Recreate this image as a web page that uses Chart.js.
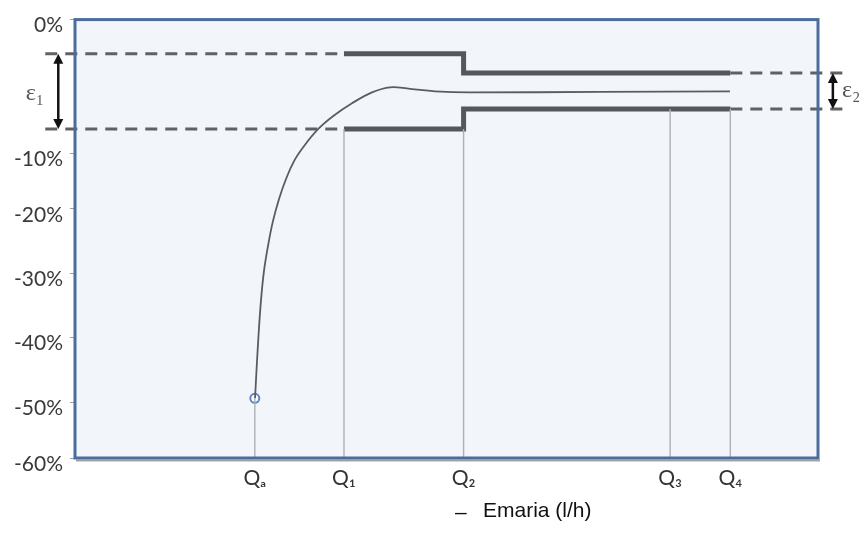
<!DOCTYPE html>
<html><head><meta charset="utf-8">
<script src="https://cdn.jsdelivr.net/npm/chart.js@4.4.1/dist/chart.umd.min.js"></script>
<style>html,body{margin:0;padding:0;background:#fff}#wrap{width:864px;height:536px;position:relative}</style>
</head><body><div id="wrap"><canvas id="c" width="864" height="536"></canvas></div>
<script>
// ---- data ----
const flowLabels = ['Qₐ','Q₁','Q₂','Q₃','Q₄'];
const flowValues = [24.2, 36.2, 52.3, 80.1, 88.2];          // nominal flow positions (0-100 axis)
const yTickValues = [0, -10, -20, -30, -40, -50, -60];      // error %
const curveX = [24.23, 24.43, 24.70, 25.03, 25.44, 25.98, 26.65, 27.46, 28.40, 29.48, 30.82, 32.71, 34.72, 37.28, 39.97, 42.40, 45.09, 48.45, 53.16, 70.66, 88.16];
const curveY = [-49.38, -45.08, -39.69, -34.22, -29.54, -25.69, -21.85, -18.21, -14.64, -11.43, -9.48, -8.21, -7.24, -6.27, -5.45, -5.07, -5.19, -5.37, -5.45, -5.41, -5.37];
const upperLimit = [-2.55, -2.55, -4.0, -4.0];   // at Q1, Q2, Q2, Q4
const lowerLimit = [-8.2, -8.2, -6.7, -6.7];     // at Q1, Q2, Q2, Q4
const eps1 = [-2.55, -8.2];
const eps2 = [-4.0, -6.7];
const lineTops = [-49.4, -8.2, -8.2, -6.7, -6.7]; // vertical guide lines Qa..Q4 start
const markerValue = -49.4;
const extLeft = -4.0, extRight = 104.3, eps1X = -2.25, eps2X = 102.0;
const xLabelText = 'Emaria (l/h)';

// ---- non-uniform (schematic) y axis layout: fraction from top for each tick value ----
const Y_FRACS = [0, 0.3045, 0.4318, 0.5795, 0.725, 0.8727, 1];

class PiecewiseScale extends Chart.LinearScale {
  static id = 'piecewise';
  static defaults = {};
  determineDataLimits() { this.min = -60; this.max = 0; }
  buildTicks() { return yTickValues.map(v => ({value: v})); }
  _fracOf(v) {
    const vs = yTickValues, fs = Y_FRACS;
    if (v >= vs[0]) return fs[0] + (v - vs[0]) / (vs[1] - vs[0]) * (fs[1] - fs[0]);
    for (let i = 0; i < vs.length - 1; i++) {
      if (v <= vs[i] && v >= vs[i + 1]) return fs[i] + (vs[i] - v) / (vs[i] - vs[i + 1]) * (fs[i + 1] - fs[i]);
    }
    const n = vs.length - 1;
    return fs[n] + (vs[n] - v) / (vs[n - 1] - vs[n]) * (fs[n] - fs[n - 1]);
  }
  getPixelForValue(v) { if (v === null || v === undefined) return NaN; return this.top + this._fracOf(v) * (this.bottom - this.top); }
  getValueForPixel(p) {
    const f = (p - this.top) / (this.bottom - this.top);
    for (let i = 0; i < Y_FRACS.length - 1; i++) {
      if (f >= Y_FRACS[i] && f <= Y_FRACS[i + 1]) return yTickValues[i] + (f - Y_FRACS[i]) / (Y_FRACS[i + 1] - Y_FRACS[i]) * (yTickValues[i + 1] - yTickValues[i]);
    }
    return f < 0 ? 0 : -60;
  }
}
Chart.register(PiecewiseScale);

const pts = (xs, ys) => xs.map((x, i) => ({x, y: ys[i]}));
const stepX = [flowValues[1], flowValues[2], flowValues[2], flowValues[4]];

const datasets = [];
flowValues.forEach((q, i) => {
  datasets.push({data: [{x: q, y: lineTops[i]}, {x: q, y: -60}], borderColor: '#aeb0b4', borderWidth: 1.4, pointRadius: 0, tension: 0});
});
datasets.push({data: pts(curveX, curveY), borderColor: '#5a5c60', borderWidth: 1.8, pointRadius: 0, tension: 0.4});
datasets.push({data: pts(stepX, upperLimit), borderColor: '#55575b', borderWidth: 5, pointRadius: 0, tension: 0, borderJoinStyle: 'miter'});
datasets.push({data: pts(stepX, lowerLimit), borderColor: '#55575b', borderWidth: 5, pointRadius: 0, tension: 0, borderJoinStyle: 'miter'});
const dashStyle = {borderColor: '#5f6165', borderWidth: 3, borderDash: [12, 8], pointRadius: 0, tension: 0, clip: false};
datasets.push(Object.assign({data: [{x: extLeft, y: eps1[0]}, {x: flowValues[1], y: eps1[0]}]}, dashStyle));
datasets.push(Object.assign({data: [{x: extLeft, y: eps1[1]}, {x: flowValues[1], y: eps1[1]}]}, dashStyle));
datasets.push(Object.assign({data: [{x: flowValues[4], y: eps2[0]}, {x: extRight, y: eps2[0]}]}, dashStyle));
datasets.push(Object.assign({data: [{x: flowValues[4], y: eps2[1]}, {x: extRight, y: eps2[1]}]}, dashStyle));
datasets.push({data: [{x: flowValues[0], y: markerValue}], showLine: false, pointRadius: 4.5, pointBorderWidth: 2, pointBorderColor: '#5b86c8', pointBackgroundColor: '#ffffff', clip: false});

function arrow(ctx, x, y1, y2) {
  const h = 10, w = 5;
  ctx.beginPath(); ctx.moveTo(x, y1 + h - 2); ctx.lineTo(x, y2 - h + 2); ctx.lineWidth = 2.5; ctx.strokeStyle = '#111'; ctx.stroke();
  ctx.beginPath(); ctx.moveTo(x, y1); ctx.lineTo(x - w, y1 + h); ctx.lineTo(x + w, y1 + h); ctx.closePath(); ctx.fillStyle = '#111'; ctx.fill();
  ctx.beginPath(); ctx.moveTo(x, y2); ctx.lineTo(x - w, y2 - h); ctx.lineTo(x + w, y2 - h); ctx.closePath(); ctx.fill();
}

const framePlugin = {
  id: 'frame',
  beforeDatasetsDraw(chart) {
    const {ctx, chartArea: a} = chart;
    ctx.save(); ctx.fillStyle = '#f2f5fa'; ctx.fillRect(a.left, a.top, a.right - a.left, a.bottom - a.top); ctx.restore();
  },
  afterDatasetsDraw(chart) {
    const {ctx, chartArea: a, scales} = chart;
    ctx.save();
    ctx.strokeStyle = '#a0a3a8'; ctx.lineWidth = 2;
    ctx.beginPath(); ctx.moveTo(a.left + 1, a.bottom + 2.5); ctx.lineTo(a.right + 2, a.bottom + 2.5); ctx.stroke();
    ctx.strokeStyle = '#4a6d9d'; ctx.lineWidth = 3;
    ctx.strokeRect(a.left, a.top, a.right - a.left, a.bottom - a.top);
    const x = scales.x, y = scales.y;
    arrow(ctx, x.getPixelForValue(eps1X), y.getPixelForValue(eps1[0]), y.getPixelForValue(eps1[1]));
    arrow(ctx, x.getPixelForValue(eps2X), y.getPixelForValue(eps2[0]), y.getPixelForValue(eps2[1]));
    ctx.fillStyle = '#555'; ctx.font = '24px "Liberation Serif"'; ctx.textBaseline = 'middle';
    ctx.textAlign = 'center';
    ctx.fillText('ε₁', 35, (y.getPixelForValue(eps1[0]) + y.getPixelForValue(eps1[1])) / 2 + 2);
    ctx.textAlign = 'left';
    ctx.fillText('ε₂', 842, (y.getPixelForValue(eps2[0]) + y.getPixelForValue(eps2[1])) / 2);
    ctx.fillStyle = '#111'; ctx.font = '21px "Liberation Sans"';
    ctx.fillText('–', 455, 513);
    ctx.fillText(xLabelText, 483, 511);
    ctx.restore();
  }
};

new Chart(document.getElementById('c'), {
  type: 'line',
  data: {datasets},
  plugins: [framePlugin],
  options: {
    responsive: false, animation: false, devicePixelRatio: 1, events: [],
    layout: {padding: {top: 18, right: 46, left: 0, bottom: 0}},
    plugins: {legend: {display: false}, tooltip: {enabled: false}},
    scales: {
      x: {
        type: 'linear', min: 0, max: 100,
        afterBuildTicks: s => { s.ticks = flowValues.map(v => ({value: v})); },
        afterFit: s => { s.height = 78; },
        grid: {display: false, drawTicks: false}, border: {display: false},
        ticks: {autoSkip: false, maxRotation: 0, padding: 8, color: '#333', font: {family: 'Lato', size: 21},
          callback: (v, i) => flowLabels[i]}
      },
      y: {
        type: 'piecewise', min: -60, max: 0,
        afterFit: s => { s.width = 75; },
        grid: {display: true, drawOnChartArea: false, drawTicks: true, tickLength: 5, color: '#9a9ea5'},
        border: {display: false},
        ticks: {padding: 7, labelOffset: 6, color: '#3a3a3a', font: {family: 'Lato', size: 21},
          callback: v => v + '%'}
      }
    }
  }
});
</script></body></html>
